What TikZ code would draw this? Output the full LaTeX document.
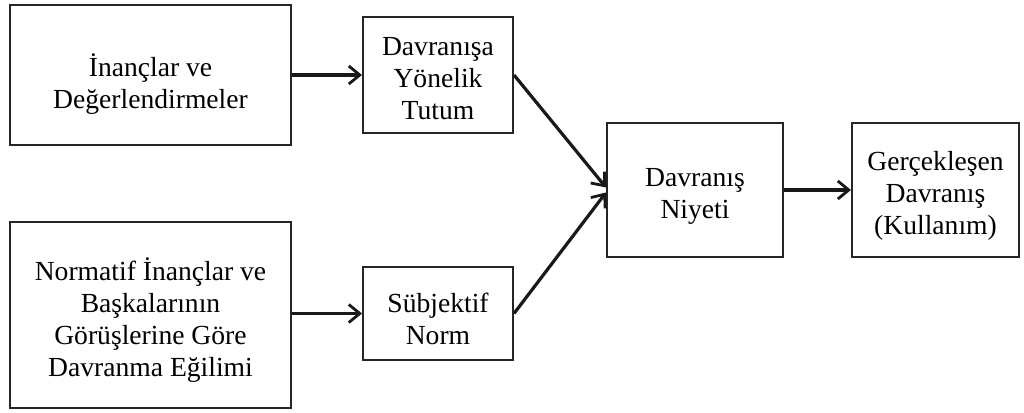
\documentclass[tikz,border=0pt]{standalone}
\usepackage{fontspec}
\setmainfont{Liberation Serif}
\usetikzlibrary{arrows.meta,calc}
\begin{document}
\begin{tikzpicture}[x=1pt,y=-1pt,
  box/.style={draw=black!85, line width=2pt, inner sep=0pt},
  txt/.style={inner sep=0pt, align=center,
    font=\fontsize{27.6}{32}\selectfont},
  link/.style={line width=3.2pt, draw=black!90,
    -{Straight Barb[length=11pt,width=18pt,line width=2.8pt]}}]
  \useasboundingbox (0,0) rectangle (1024,412);
  % boxes
  \node[box, minimum width=281, minimum height=140] (b1) at (150.5,75) {};
  \node[box, minimum width=150, minimum height=116] (b2) at (438,75) {};
  \node[box, minimum width=281, minimum height=186] (b3) at (150.5,315) {};
  \node[box, minimum width=150, minimum height=93] (b4) at (438,313.5) {};
  \node[box, minimum width=176, minimum height=134] (b5) at (695,190) {};
  \node[box, minimum width=167, minimum height=134] (b6) at (935.5,190) {};
  % box texts, sitting slightly below the box centres
  \node[txt] (t1) at ($(b1.center)+(0,9)$) {İnançlar ve\\Değerlendirmeler};
  \node[txt] (t2) at ($(b2.center)+(0,4)$) {Davranışa\\Yönelik\\Tutum};
  \node[txt] (t3) at ($(b3.center)+(0,5)$)
    {Normatif İnançlar ve\\Başkalarının\\Görüşlerine Göre\\Davranma Eğilimi};
  \node[txt] (t4) at ($(b4.center)+(0,5)$) {Sübjektif\\Norm};
  \node[txt] (t5) at ($(b5.center)+(0,6)$) {Davranış\\Niyeti};
  \node[txt] (t6) at ($(b6.center)+(0,6)$) {Gerçekleşen\\Davranış\\(Kullanım)};
  % connectors
  \draw[link] (b1.east) -- (b2.west);
  \draw[link] (b3.east |- b4.east) -- (b4.west);
  \draw[link] (b2.east) -- ($(b5.west)+(0,-2.5)$);
  \draw[link] (b4.east) -- ($(b5.west)+(0,2.5)$);
  \draw[link] (b5.east) -- (b6.west);
\end{tikzpicture}
\end{document}
